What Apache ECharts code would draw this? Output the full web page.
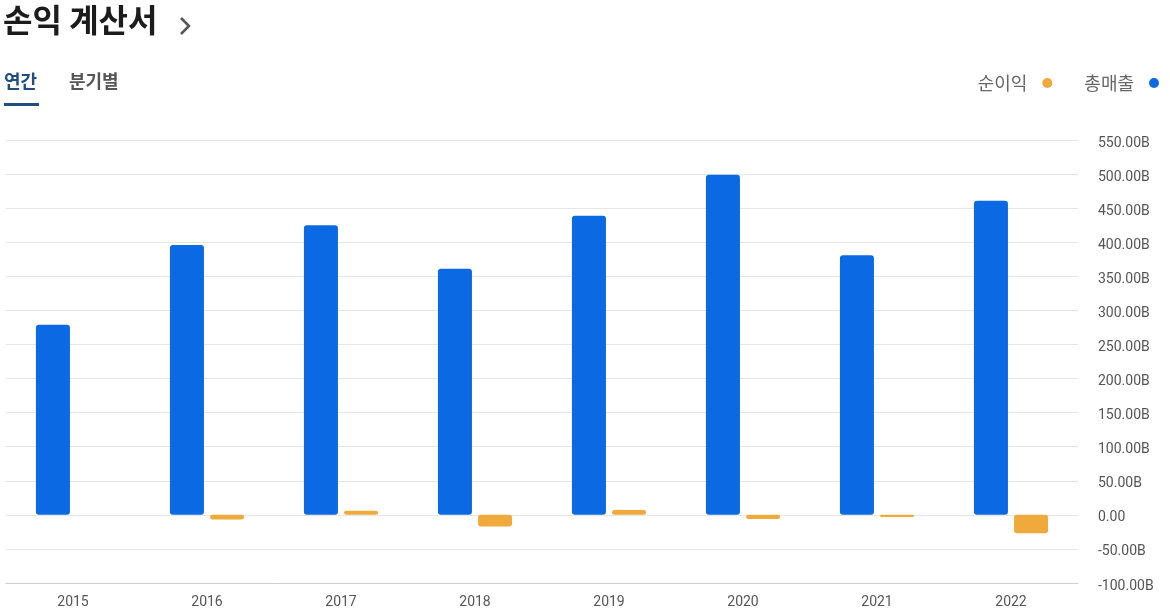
<!DOCTYPE html>
<html><head><meta charset="utf-8">
<script src="https://cdn.jsdelivr.net/npm/echarts@6/dist/echarts.min.js"></script>
<style>html,body{margin:0;padding:0;background:#fff}#c{width:1170px;height:615px}</style>
</head><body><div id="c"></div>
<script>
const categories = ['2015','2016','2017','2018','2019','2020','2021','2022'];
const revenue = [279, 396, 425, 361, 439, 499, 381, 461];
const netIncome = [0, -7, 6, -17, 7, -6, -3, -27];
const yTicks = {min: -100, max: 550, interval: 50};

const FONT = '"Noto Sans CJK KR", "Noto Sans", sans-serif';
const chart = echarts.init(document.getElementById('c'));
chart.setOption({
  animation: false,
  textStyle: {fontFamily: FONT},
  graphic: [
    {type: 'text', left: 3, top: 4, style: {text: '손익 계산서', font: 'bold 32px ' + FONT, fill: '#1c1c1c'}},
    {type: 'polyline', shape: {points: [[181, 18], [189, 26], [181, 34]]}, style: {stroke: '#555', lineWidth: 2.5, fill: null}},
    {type: 'text', left: 4, top: 72, style: {text: '연간', font: 'bold 18px ' + FONT, fill: '#1d4e7f'}},
    {type: 'rect', left: 4, top: 103, shape: {width: 35, height: 3}, style: {fill: '#1d4e7f'}},
    {type: 'text', left: 69, top: 72, style: {text: '분기별', font: 'bold 18px ' + FONT, fill: '#555'}}
  ],
  legend: {
    right: 6, top: 69, align: 'right', itemGap: 32, itemWidth: 10, itemHeight: 10,
    icon: 'circle',
    textStyle: {fontSize: 18, color: '#666', fontFamily: FONT, padding: [0, 10, 0, 0]},
    data: ['순이익', '총매출']
  },
  grid: {left: 6, right: 92, top: 140, bottom: 32},
  xAxis: {
    type: 'category', data: categories,
    axisLine: {onZero: false, lineStyle: {color: '#cfcfcf'}},
    axisTick: {show: false},
    axisLabel: {color: '#555', fontSize: 14, margin: 12, fontFamily: 'Roboto, sans-serif'}
  },
  yAxis: {
    type: 'value', position: 'right', min: yTicks.min, max: yTicks.max, interval: yTicks.interval,
    splitLine: {lineStyle: {color: '#e6e6e6'}},
    axisLine: {show: false}, axisTick: {show: false},
    axisLabel: {
      color: '#555', fontSize: 14, margin: 20, fontFamily: 'Roboto, sans-serif',
      verticalAlign: 'top', padding: [-4, 0, 0, 0],
      formatter: v => v === 0 ? '0.00' : v.toFixed(2) + 'B'
    }
  },
  series: [
    {name: '총매출', type: 'bar', data: revenue, barWidth: 34, barGap: '18%',
     itemStyle: {color: '#0b69e3', borderRadius: 3}},
    {name: '순이익', type: 'bar', data: netIncome, barWidth: 34,
     itemStyle: {color: '#f0a93b', borderRadius: 3}}
  ]
});
</script></body></html>
